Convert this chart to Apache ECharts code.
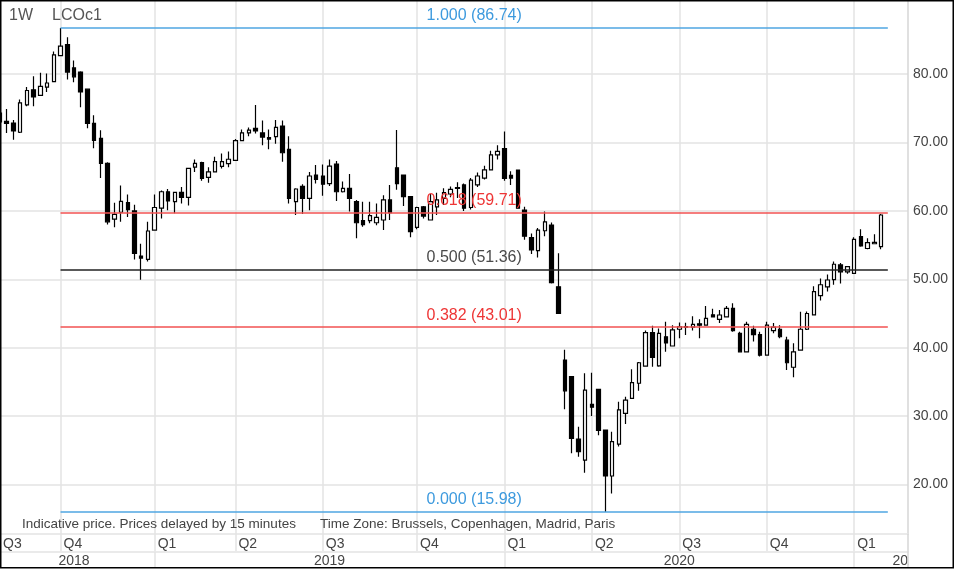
<!DOCTYPE html>
<html><head><meta charset="utf-8">
<script src="https://cdn.jsdelivr.net/npm/echarts@6/dist/echarts.min.js"></script>
<style>html,body{margin:0;padding:0;background:#fff}#c{width:954px;height:570px}</style>
</head><body><div id="c"></div>
<script>
// Weekly categories (Monday of each week)
const weeks = [
'2018-07-30','2018-08-06','2018-08-13','2018-08-20','2018-08-27','2018-09-03','2018-09-10','2018-09-17','2018-09-24','2018-10-01','2018-10-08','2018-10-15','2018-10-22','2018-10-29','2018-11-05','2018-11-12','2018-11-19','2018-11-26','2018-12-03','2018-12-10','2018-12-17','2018-12-24','2018-12-31',
'2019-01-07','2019-01-14','2019-01-21','2019-01-28','2019-02-04','2019-02-11','2019-02-18','2019-02-25','2019-03-04','2019-03-11','2019-03-18','2019-03-25','2019-04-01','2019-04-08','2019-04-15','2019-04-22','2019-04-29','2019-05-06','2019-05-13','2019-05-20','2019-05-27','2019-06-03','2019-06-10','2019-06-17','2019-06-24','2019-07-01','2019-07-08','2019-07-15','2019-07-22','2019-07-29','2019-08-05','2019-08-12','2019-08-19','2019-08-26','2019-09-02','2019-09-09','2019-09-16','2019-09-23','2019-09-30','2019-10-07','2019-10-14','2019-10-21','2019-10-28','2019-11-04','2019-11-11','2019-11-18','2019-11-25','2019-12-02','2019-12-09','2019-12-16','2019-12-23','2019-12-30',
'2020-01-06','2020-01-13','2020-01-20','2020-01-27','2020-02-03','2020-02-10','2020-02-17','2020-02-24','2020-03-02','2020-03-09','2020-03-16','2020-03-23','2020-03-30','2020-04-06','2020-04-13','2020-04-20','2020-04-27','2020-05-04','2020-05-11','2020-05-18','2020-05-25','2020-06-01','2020-06-08','2020-06-15','2020-06-22','2020-06-29','2020-07-06','2020-07-13','2020-07-20','2020-07-27','2020-08-03','2020-08-10','2020-08-17','2020-08-24','2020-08-31','2020-09-07','2020-09-14','2020-09-21','2020-09-28','2020-10-05','2020-10-12','2020-10-19','2020-10-26','2020-11-02','2020-11-09','2020-11-16','2020-11-23','2020-11-30','2020-12-07','2020-12-14','2020-12-21','2020-12-28',
'2021-01-04','2021-01-11','2021-01-18','2021-01-25','2021-02-01','2021-02-08','2021-02-15','2021-02-22','2021-03-01'
];
// [open, close, low, high]
const weeklyOHLC = [
[74.3,73.0,71.8,75.3],[73.1,72.8,71.4,74.9],[72.85,71.7,70.4,73.3],[71.5,75.8,71.4,76.3],[75.5,77.6,75.3,78.1],
[77.7,76.65,75.3,79.7],[76.9,78.2,76.8,80.2],[78.1,78.7,77.4,80.1],[78.9,82.8,78.8,83.3],[82.7,84.1,82.6,86.74],
[84.3,80.3,79.2,85.4],[80.9,79.6,78.8,82.0],[80.3,77.4,75.15,80.4],[77.8,72.8,72.1,77.9],[72.8,70.3,69.15,74.0],
[70.6,66.96,64.8,71.8],[66.96,58.4,58.0,67.1],[58.8,59.5,57.6,61.2],[59.8,61.4,58.4,63.7],[61.2,60.2,59.1,62.4],
[60.0,53.8,52.9,60.9],[53.4,53.1,49.93,55.2],[52.9,57.06,52.6,58.4],
[57.2,60.5,57.1,62.4],[60.4,62.8,58.9,63.0],[62.8,61.45,60.1,63.2],[61.35,62.7,59.65,62.8],[62.7,61.98,61.1,63.5],
[61.98,66.23,60.8,66.3],[66.4,66.96,65.7,67.5],[67.05,64.77,64.4,67.2],[64.9,65.7,64.1,66.4],[65.7,67.2,65.7,67.9],
[66.5,67.2,66.2,68.4],[66.9,67.55,66.4,68.7],[67.4,70.26,67.3,70.5],[70.26,71.4,70.2,71.9],[71.4,71.8,70.9,72.2],
[72.07,71.7,71.3,75.48],[71.4,70.8,69.6,73.2],[70.7,70.5,69.0,71.9],[70.85,72.2,69.8,73.3],[72.4,68.5,67.2,73.2],
[69.0,61.84,61.1,70.9],[61.35,63.2,59.4,63.3],[63.6,61.84,59.55,63.9],[61.84,65.1,60.1,65.7],[65.25,64.6,64.0,66.7],
[65.1,63.9,62.2,66.8],[64.0,66.56,63.64,67.5],[66.86,62.8,61.45,67.3],[62.8,63.3,62.7,64.3],[63.3,61.84,59.9,65.4],
[61.35,58.27,56.0,61.6],[58.6,58.0,57.7,61.35],[58.57,59.3,58.2,61.35],[58.27,59.06,57.9,61.1],[58.67,61.6,57.2,62.3],
[61.6,59.74,58.67,63.8],[66.3,64.0,63.1,71.83],[65.25,62.08,60.7,65.3],[62.08,56.96,56.14,62.1],[57.6,60.5,57.3,60.6],
[60.6,59.25,58.9,60.7],[58.67,61.35,58.67,62.47],[60.6,61.6,59.4,62.67],[61.84,62.67,60.85,63.3],[62.47,63.16,61.98,63.55],
[63.3,63.4,61.9,64.2],[63.8,60.4,60.0,64.0],[60.5,64.5,60.2,64.8],[63.8,65.1,63.5,65.6],[64.8,66.0,64.6,66.6],
[66.0,68.2,65.9,68.8],[68.2,68.7,67.5,69.6],
[69.1,64.77,64.4,71.6],[65.2,64.8,63.8,65.8],[65.98,60.4,60.3,66.0],[60.13,56.3,55.8,60.6],[56.1,54.3,53.7,56.7],
[54.2,57.2,53.2,57.5],[57.1,58.4,56.3,59.9],[57.94,49.5,49.4,58.3],[48.9,45.0,45.0,53.8],[38.2,33.7,31.0,39.7],
[35.76,26.75,24.56,35.8],[26.65,24.8,24.07,28.45],[23.57,33.8,21.73,36.26],[31.72,31.3,30.0,36.35],[33.9,27.9,27.2,33.9],
[27.97,21.24,15.98,28.0],[21.24,26.26,18.7,27.7],[25.9,30.9,25.55,32.1],[30.4,32.35,28.85,32.84],[32.6,34.88,32.6,36.84],
[34.8,37.8,33.7,37.9],[37.3,42.2,37.3,42.5],[42.2,38.6,37.2,43.2],[37.33,42.1,37.2,42.8],[41.6,40.7,39.4,43.8],
[40.25,42.6,40.2,43.3],[42.7,43.06,41.4,43.7],[43.1,43.0,41.85,43.65],[43.0,43.4,42.5,44.6],[43.5,43.3,41.4,44.15],
[43.3,44.3,43.3,46.1],[44.8,44.5,44.4,45.7],[44.15,44.78,43.6,45.5],[44.5,45.76,44.5,46.1],[45.76,42.5,42.34,46.5],
[42.1,39.4,39.3,42.34],[39.4,43.4,39.4,43.8],[42.7,41.9,40.9,43.2],[41.9,38.9,38.7,42.34],[38.9,43.3,38.9,43.8],
[42.5,43.0,42.1,43.6],[42.7,41.6,41.4,43.3],[41.1,37.8,36.74,41.6],[37.14,39.4,35.67,40.65],[39.66,42.7,39.66,45.26],
[42.7,45.0,42.6,45.3],[44.8,48.2,44.8,49.0],[47.6,49.2,46.9,50.1],[48.9,49.9,48.2,50.7],[49.95,52.2,49.2,52.6],
[52.1,51.1,49.4,52.4],[51.1,51.85,50.8,51.95],
[50.88,55.85,50.8,56.16],[56.23,54.87,54.77,57.3],[54.5,55.35,54.4,56.0],[55.2,55.4,55.2,56.6],[54.77,59.4,54.4,59.55]
];
const fibRatios = [1.000, 0.618, 0.500, 0.382, 0.000];
const fibPrices = [86.74, 59.71, 51.36, 43.01, 15.98];
const yTickValues = [20, 30, 40, 50, 60, 70, 80];
const yearLabels = ['2018', '2019', '2020', '2021'];
const titleText = ['1W', 'LCOc1'];
const footnotes = ['Indicative price. Prices delayed by 15 minutes', 'Time Zone: Brussels, Copenhagen, Madrid, Paris'];

// helpers
const month = i => +weeks[i].slice(5, 7);
const day = i => +weeks[i].slice(8, 10);
const isQuarterStart = i => i > 0 && [1,4,7,10].includes(month(i)) && day(i) <= 7;
const isYearStart = i => i > 0 && month(i) === 1 && day(i) <= 7;
const yearStarts = [0].concat(weeks.map((w,i)=>i).filter(isYearStart));
const yearLabelIdx = yearStarts.map((s, k) => k < yearStarts.length - 1 ? Math.floor((s + yearStarts[k+1]) / 2) : weeks.length - 1);

let peakIdx = 0;
weeklyOHLC.forEach((d, i) => { if (d[3] > weeklyOHLC[peakIdx][3]) peakIdx = i; });
const fibEndIdx = weeklyOHLC.length;

const blue = '#4fa6e2', red = '#f25252', dark = '#222222';
const fibLineColors = [blue, red, dark, red, blue];
const fibTextColors = ['#3d9ade', '#ee3535', '#4a4a4a', '#ee3535', '#3d9ade'];

const gridLine = '#e3e3e3';
const chart = echarts.init(document.getElementById('c'), null, {renderer: 'canvas'});
chart.setOption({
  animation: false,
  backgroundColor: '#fff',
  title: [
    {text: titleText[0], left: 4, top: 3, textStyle: {fontSize: 16, fontWeight: 'normal', color: '#555', fontFamily: 'Liberation Sans, Arial'}},
    {text: titleText[1], left: 47, top: 3, textStyle: {fontSize: 16, fontWeight: 'normal', color: '#555', fontFamily: 'Liberation Sans, Arial'}}
  ],
  grid: {left: 0, right: 46, top: 0, bottom: 36, containLabel: false},
  xAxis: [
    {
      type: 'category', data: weeks, boundaryGap: false, position: 'bottom',
      axisLine: {show: true, lineStyle: {color: gridLine, width: 1.5}},
      axisTick: {show: true, interval: (i) => isQuarterStart(i), length: 17, lineStyle: {color: gridLine, width: 1.5}},
      axisLabel: {
        interval: (i) => i === 0 || isQuarterStart(i), align: 'left', padding: [0,0,0,3], margin: 3,
        fontSize: 14, color: '#444', fontFamily: 'Liberation Sans, Arial',
        formatter: (v) => 'Q' + (Math.floor((+v.slice(5,7) - 1) / 3) + 1)
      },
      splitLine: {show: true, interval: (i) => isQuarterStart(i), lineStyle: {color: gridLine, width: 1.5}}
    },
    {
      type: 'category', data: weeks, boundaryGap: false, position: 'bottom', offset: 17.5,
      axisLine: {show: true, lineStyle: {color: gridLine, width: 1.5}},
      axisTick: {show: true, interval: (i) => isYearStart(i), length: 16, lineStyle: {color: gridLine, width: 1.5}},
      axisLabel: {
        interval: (i) => yearLabelIdx.includes(i), align: 'center', margin: 3,
        fontSize: 14, color: '#444', fontFamily: 'Liberation Sans, Arial',
        formatter: (v, i) => yearLabels[yearLabelIdx.indexOf(i)] || ''
      },
      splitLine: {show: false}
    }
  ],
  yAxis: {
    type: 'value', position: 'right', min: 12.763, max: 90.834, scale: true,
    axisLine: {show: true, lineStyle: {color: '#d6d6d6', width: 1.5}},
    axisTick: {show: false, customValues: yTickValues},
    axisLabel: {customValues: yTickValues, margin: 5, fontSize: 14, color: '#444', fontFamily: 'Liberation Sans, Arial', formatter: v => v.toFixed(2)},
    splitLine: {show: true, lineStyle: {color: gridLine, width: 1.5}}
  },
  series: [{
    type: 'candlestick', data: weeklyOHLC, xAxisIndex: 0, barWidth: 4,
    itemStyle: {color: '#ffffff', color0: '#000000', borderColor: '#000000', borderColor0: '#000000', borderWidth: 1.2},
    markLine: {
      symbol: ['none', 'none'], silent: true, animation: false,
      data: fibPrices.map((p, k) => {
        const lbl = {show: true, position: 'middle', distance: 4, formatter: fibRatios[k].toFixed(3) + ' (' + p.toFixed(2) + ')',
                     color: fibTextColors[k], fontSize: 16, fontFamily: 'Liberation Sans, Arial'};
        const ls = {color: fibLineColors[k], width: 1.5, type: 'solid'};
        return [{coord: [weeks[peakIdx], p], lineStyle: ls, label: lbl},
                {coord: [weeks[fibEndIdx], p], lineStyle: ls, label: lbl}];
      })
    }
  }],
  graphic: [
    {type: 'text', left: 22, top: 517, style: {text: footnotes[0], fill: '#444', font: '13.5px Liberation Sans, Arial'}, z: 50},
    {type: 'text', left: 320, top: 517, style: {text: footnotes[1], fill: '#444', font: '13.5px Liberation Sans, Arial'}, z: 50},
    {type: 'rect', shape: {x: 909, y: 551, width: 44, height: 16}, style: {fill: '#fff'}, z: 90},
    {type: 'line', shape: {x1: 908, y1: 534, x2: 908, y2: 568}, style: {stroke: '#d6d6d6', lineWidth: 1.5}, z: 91},
    {type: 'rect', shape: {x: 0.75, y: 0.75, width: 952.5, height: 567}, style: {fill: 'none', stroke: '#000', lineWidth: 1.5}, z: 100}
  ]
});
</script></body></html>
